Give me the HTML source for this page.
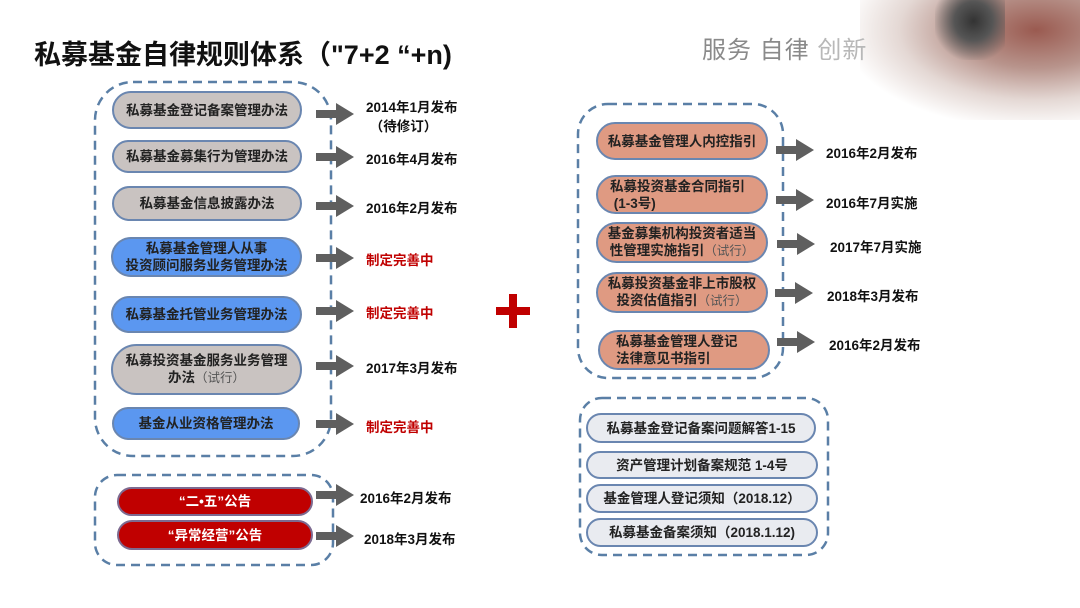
<!DOCTYPE html>
<html><head><meta charset="utf-8"><style>
body{margin:0;width:1080px;height:608px;position:relative;background:#fff;overflow:hidden;font-family:"Liberation Sans","Noto Sans CJK SC",sans-serif;}
.p{position:absolute;box-sizing:border-box;border:2px solid #6a86b0;border-radius:999px;display:flex;align-items:center;justify-content:center;text-align:center;font-weight:bold;font-size:13.5px;line-height:17px;color:#222;}
.g{background:#c9c3c1;}
.b{background:#5b97f0;}
.o{background:#df9a82;}
.r{background:#c00000;color:#fff;border-color:#7d6a90;}
.l{background:#e9ebf0;}
.t{position:absolute;font-weight:bold;font-size:13.5px;color:#111;white-space:nowrap;}
.red{color:#c00000;}
.s{font-weight:normal;color:#555;font-size:12.5px;}
</style></head><body>
<div style="position:absolute;left:860px;top:0;width:220px;height:120px;background:radial-gradient(ellipse at 80% 25%,#9a5a50 0%,#b8948c 30%,#e4d8d4 55%,rgba(255,255,255,0) 78%);"></div>
<div style="position:absolute;left:935px;top:0;width:70px;height:60px;background:radial-gradient(ellipse at 55% 35%,#333 0%,#555 35%,rgba(255,255,255,0) 75%);"></div>
<div style="position:absolute;left:34px;top:33px;font-size:27px;font-weight:bold;color:#111;white-space:nowrap;">私募基金自律规则体系（"7+2 “+n)</div>
<div style="position:absolute;left:702px;top:30px;font-size:24px;color:#8a8a8a;white-space:nowrap;letter-spacing:1px;">服务 自律 <span style="color:#b8b8b8">创新</span></div>
<svg width="1080" height="608" style="position:absolute;left:0;top:0">
<defs><path id="ar" d="M0,-4 H20 V-11 L38,0 L20,11 V4 H0 Z" fill="#5f5f5f"/></defs>
<g fill="none" stroke="#5a7fa6" stroke-width="2.5" stroke-dasharray="9,6">
<rect x="95" y="82" width="236" height="374" rx="38"/>
<rect x="95" y="475" width="238" height="90" rx="22"/>
<rect x="578" y="104" width="205" height="274" rx="30"/>
<rect x="580" y="398" width="248" height="157" rx="22"/>
</g>
<use href="#ar" x="316" y="114"/><use href="#ar" x="316" y="157"/><use href="#ar" x="316" y="206"/>
<use href="#ar" x="316" y="258"/><use href="#ar" x="316" y="311"/><use href="#ar" x="316" y="366"/>
<use href="#ar" x="316" y="424"/><use href="#ar" x="316" y="495"/><use href="#ar" x="316" y="536"/>
<use href="#ar" x="776" y="150"/><use href="#ar" x="776" y="200"/><use href="#ar" x="777" y="244"/>
<use href="#ar" x="775" y="293"/><use href="#ar" x="777" y="342"/>
<rect x="496" y="307" width="34" height="8" fill="#c00000"/>
<rect x="509" y="294" width="8" height="34" fill="#c00000"/>
</svg>
<div class="p g" style="left:112px;top:91px;width:190px;height:38px;"><div>私募基金登记备案管理办法</div></div>
<div class="p g" style="left:112px;top:140px;width:190px;height:33px;"><div>私募基金募集行为管理办法</div></div>
<div class="p g" style="left:112px;top:186px;width:190px;height:35px;"><div>私募基金信息披露办法</div></div>
<div class="p b" style="left:111px;top:237px;width:191px;height:40px;"><div>私募基金管理人从事<br>投资顾问服务业务管理办法</div></div>
<div class="p b" style="left:111px;top:296px;width:191px;height:37px;"><div>私募基金托管业务管理办法</div></div>
<div class="p g" style="left:111px;top:344px;width:191px;height:51px;"><div>私募投资基金服务业务管理<br>办法<span class="s">（试行）</span></div></div>
<div class="p b" style="left:112px;top:407px;width:188px;height:33px;"><div>基金从业资格管理办法</div></div>
<div class="p r" style="left:117px;top:487px;width:196px;height:29px;"><div>“二•五”公告</div></div>
<div class="p r" style="left:117px;top:520px;width:196px;height:30px;"><div>“异常经营”公告</div></div>
<div class="t" style="left:366px;top:98px;line-height:19px;">2014年1月发布<br>&nbsp;（待修订）</div>
<div class="t" style="left:366px;top:148px;">2016年4月发布</div>
<div class="t" style="left:366px;top:197px;">2016年2月发布</div>
<div class="t red" style="left:366px;top:249px;">制定完善中</div>
<div class="t red" style="left:366px;top:302px;">制定完善中</div>
<div class="t" style="left:366px;top:357px;">2017年3月发布</div>
<div class="t red" style="left:366px;top:416px;">制定完善中</div>
<div class="t" style="left:360px;top:487px;">2016年2月发布</div>
<div class="t" style="left:364px;top:528px;">2018年3月发布</div>
<div class="p o" style="left:596px;top:122px;width:172px;height:38px;"><div>私募基金管理人内控指引</div></div>
<div class="p o" style="left:596px;top:175px;width:172px;height:39px;justify-content:flex-start;padding-left:12px;text-align:left;"><div>私募投资基金合同指引<br>&nbsp;(1-3号)</div></div>
<div class="p o" style="left:596px;top:222px;width:172px;height:41px;"><div>基金募集机构投资者适当<br>性管理实施指引<span class="s">（试行）</span></div></div>
<div class="p o" style="left:596px;top:272px;width:172px;height:41px;"><div>私募投资基金非上市股权<br>投资估值指引<span class="s">（试行）</span></div></div>
<div class="p o" style="left:598px;top:330px;width:172px;height:40px;justify-content:flex-start;padding-left:16px;text-align:left;"><div>私募基金管理人登记<br>法律意见书指引</div></div>
<div class="t" style="left:826px;top:142px;">2016年2月发布</div>
<div class="t" style="left:826px;top:192px;">2016年7月实施</div>
<div class="t" style="left:830px;top:236px;">2017年7月实施</div>
<div class="t" style="left:827px;top:285px;">2018年3月发布</div>
<div class="t" style="left:829px;top:334px;">2016年2月发布</div>
<div class="p l" style="left:586px;top:413px;width:230px;height:30px;"><div>私募基金登记备案问题解答1-15</div></div>
<div class="p l" style="left:586px;top:451px;width:232px;height:28px;"><div>资产管理计划备案规范 1-4号</div></div>
<div class="p l" style="left:586px;top:484px;width:232px;height:29px;"><div>基金管理人登记须知（2018.12）</div></div>
<div class="p l" style="left:586px;top:518px;width:232px;height:29px;"><div>私募基金备案须知（2018.1.12)</div></div>
</body></html>
